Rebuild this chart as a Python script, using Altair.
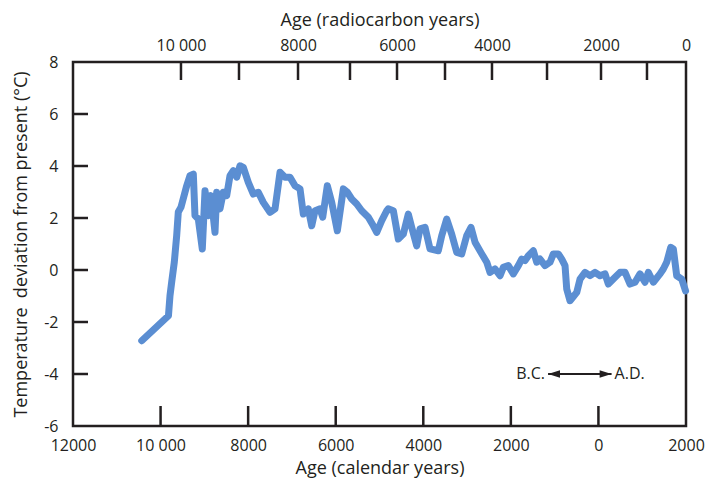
import altair as alt
import pandas as pd

# Calendar year (negative = B.C.) and temperature deviation from present (deg C)
cal_year = [-10430, -9820, -9785, -9746, -9686, -9632, -9595, -9533, -9403, -9328,
            -9252, -9214, -9138, -9047, -8985, -8910, -8848, -8757, -8718, -8643,
            -8567, -8490, -8414, -8339, -8261, -8186, -8110, -7996, -7882, -7768,
            -7654, -7501, -7386, -7272, -7158, -7044, -6930, -6815, -6740, -6626,
            -6548, -6473, -6359, -6297, -6192, -6091, -5963, -5826, -5735, -5635,
            -5520, -5406, -5255, -5141, -5063, -4949, -4835, -4799, -4684, -4570,
            -4456, -4342, -4264, -4150, -4075, -3960, -3846, -3657, -3579, -3465,
            -3351, -3236, -3122, -3008, -2910, -2818, -2665, -2551, -2476, -2362,
            -2247, -2172, -2058, -1944, -1829, -1752, -1676, -1601, -1487, -1409,
            -1334, -1220, -1105, -1030, -916, -838, -763, -724, -649, -557,
            -495, -420, -306, -192, -78, 37, 151, 226, 340, 493,
            608, 722, 836, 950, 1064, 1140, 1254, 1407, 1482, 1560,
            1651, 1711, 1788, 1903, 1990]
temp_dev = [-2.72, -1.76, -0.99, -0.46, 0.31, 1.32, 2.23, 2.42, 3.24, 3.63,
            3.69, 2.09, 1.96, 0.81, 3.05, 2.09, 2.86, 1.45, 2.99, 2.35,
            2.99, 2.86, 3.63, 3.82, 3.57, 4.01, 3.95, 3.37, 2.92, 2.99,
            2.60, 2.22, 2.35, 3.76, 3.57, 3.57, 3.24, 3.12, 2.15, 2.35,
            1.70, 2.28, 2.35, 2.03, 3.24, 2.60, 1.51, 3.12, 2.99, 2.73,
            2.54, 2.28, 2.03, 1.70, 1.45, 1.90, 2.28, 2.35, 2.28, 1.19,
            1.38, 2.15, 1.64, 0.93, 1.58, 1.64, 0.81, 0.74, 1.32, 1.96,
            1.38, 0.68, 0.62, 1.32, 1.64, 1.07, 0.62, 0.30, -0.09, 0.04,
            -0.22, 0.10, 0.17, -0.15, 0.17, 0.42, 0.36, 0.55, 0.74, 0.30,
            0.42, 0.17, 0.30, 0.62, 0.62, 0.42, 0.17, -0.73, -1.18, -0.99,
            -0.86, -0.35, -0.09, -0.22, -0.09, -0.22, -0.15, -0.54, -0.35, -0.09,
            -0.09, -0.54, -0.47, -0.15, -0.47, -0.09, -0.47, -0.15, 0.04, 0.30,
            0.87, 0.81, -0.22, -0.35, -0.80]

# Axis ticks
x_tick_values = [-12000, -10000, -8000, -6000, -4000, -2000, 0, 2000]
x_inner_ticks = [-10000, -8000, -6000, -4000, -2000, 0]
y_tick_values = [-6, -4, -2, 0, 2, 4, 6, 8]
y_inner_ticks = [-4, -2, 0, 2, 4, 6]

# Radiocarbon ages and their calendar-year positions (top axis)
rc_ages = [10000, 9000, 8000, 7000, 6000, 5000, 4000, 3000, 2000, 1000, 0]
rc_cal_pos = [-9534, -8209, -6861, -5674, -4600, -3504, -2431, -1174, 59, 1109, 2000]
rc_labels = ["10 000", "", "8000", "", "6000", "", "4000", "", "2000", "", "0"]

# Annotation
bc_ad_y = [-4.0]
arrow_from = [-1150]
arrow_to = [300]

INK = "#231f20"
BLUE = "#5b8ed2"
FONT = "Open Sans"

df = pd.DataFrame({"year": cal_year, "temp": temp_dev, "order": list(range(len(cal_year)))})
xscale = alt.Scale(domain=[-12000, 2000], nice=False, zero=False)
yscale = alt.Scale(domain=[-6, 8], nice=False, zero=False)

bottom_expr = "datum.value == -10000 ? '10 000' : '' + abs(datum.value)"
y_expr = "datum.value < 0 ? '-' + abs(datum.value) : '' + datum.value"

top_vals = [p for p, l in zip(rc_cal_pos, rc_labels) if l]
top_expr = ""
for p, l in zip(rc_cal_pos, rc_labels):
    if l:
        top_expr += f"datum.value == {p} ? '{l}' : "
top_expr += "''"

line = alt.Chart(df).mark_line(strokeWidth=7, color=BLUE, strokeJoin="round", strokeCap="round").encode(
    x=alt.X("year:Q", scale=xscale, axis=alt.Axis(
        orient="bottom", values=x_tick_values, labelExpr=bottom_expr, ticks=False, domain=False,
        grid=False, labelFlush=False, labelOverlap=False, labelBound=False, labelPadding=11,
        title="Age (calendar years)", titlePadding=6)),
    y=alt.Y("temp:Q", scale=yscale, axis=alt.Axis(
        orient="left", values=y_tick_values, labelExpr=y_expr, ticks=False, domain=False, grid=False,
        labelFlush=False, labelOverlap=False, labelBound=False, labelPadding=15,
        title="Temperature\u00a0 deviation from present (°C)", titlePadding=13)),
    order="order:Q",
)

top_df = pd.DataFrame({"pos": rc_cal_pos[:-1], "age": rc_ages[:-1]})
top_ticks = alt.Chart(top_df).mark_rule(strokeWidth=2.5, color=INK).encode(
    x=alt.X("pos:Q", scale=xscale, axis=alt.Axis(
        orient="top", values=top_vals, labelExpr=top_expr, ticks=False, domain=False, grid=False,
        labelFlush=False, labelOverlap=False, labelBound=False, labelPadding=9,
        title="Age (radiocarbon years)", titlePadding=8)),
    y=alt.value(0), y2=alt.value(18),
)

bottom_ticks = alt.Chart(pd.DataFrame({"t": x_inner_ticks})).mark_rule(strokeWidth=2.5, color=INK).encode(
    x=alt.X("t:Q", scale=xscale, axis=None),
    y=alt.value(344), y2=alt.value(364),
)

left_ticks = alt.Chart(pd.DataFrame({"v": y_inner_ticks})).mark_rule(strokeWidth=2.5, color=INK).encode(
    y=alt.Y("v:Q", scale=yscale, axis=None),
    x=alt.value(0), x2=alt.value(15),
)

arrow_df = pd.DataFrame({"a": arrow_from, "b": arrow_to, "y": bc_ad_y})
arrow_line = alt.Chart(arrow_df).mark_rule(strokeWidth=2, color=INK, strokeCap="butt").encode(
    x=alt.X("a:Q", scale=xscale, axis=None), x2="b:Q",
    y=alt.Y("y:Q", scale=yscale, axis=None),
)
head_left = alt.Chart(arrow_df).mark_point(shape="M0,0L1.4,-0.45L1.4,0.45Z", filled=True, size=290,
                                           color=INK, opacity=1, strokeWidth=0).encode(
    x=alt.X("a:Q", scale=xscale, axis=None), y=alt.Y("y:Q", scale=yscale, axis=None))
head_right = alt.Chart(arrow_df).mark_point(shape="M0,0L-1.4,-0.45L-1.4,0.45Z", filled=True, size=290,
                                            color=INK, opacity=1, strokeWidth=0).encode(
    x=alt.X("b:Q", scale=xscale, axis=None), y=alt.Y("y:Q", scale=yscale, axis=None))
bc_text = alt.Chart(arrow_df).mark_text(text="B.C.", align="right", baseline="middle", dx=-3,
                                        font=FONT, fontSize=16, color=INK).encode(
    x=alt.X("a:Q", scale=xscale, axis=None), y=alt.Y("y:Q", scale=yscale, axis=None))
ad_text = alt.Chart(arrow_df).mark_text(text="A.D.", align="left", baseline="middle", dx=3,
                                        font=FONT, fontSize=16, color=INK).encode(
    x=alt.X("b:Q", scale=xscale, axis=None), y=alt.Y("y:Q", scale=yscale, axis=None))

chart = alt.layer(
    line, top_ticks, bottom_ticks, left_ticks, arrow_line, head_left, head_right, bc_text, ad_text
).resolve_axis(x="independent", y="independent").properties(
    width=613, height=364,
    autosize=alt.AutoSizeParams(type="none"),
    padding={"left": 65, "top": 54, "right": 23, "bottom": 52},
).configure_view(
    stroke=INK, strokeWidth=2.5
).configure_axis(
    labelFont=FONT, titleFont=FONT, labelFontSize=16, titleFontSize=18,
    labelColor=INK, titleColor=INK, titleFontWeight="normal"
)

chart.save("out.html", embed_options={"renderer": "svg", "actions": False})
